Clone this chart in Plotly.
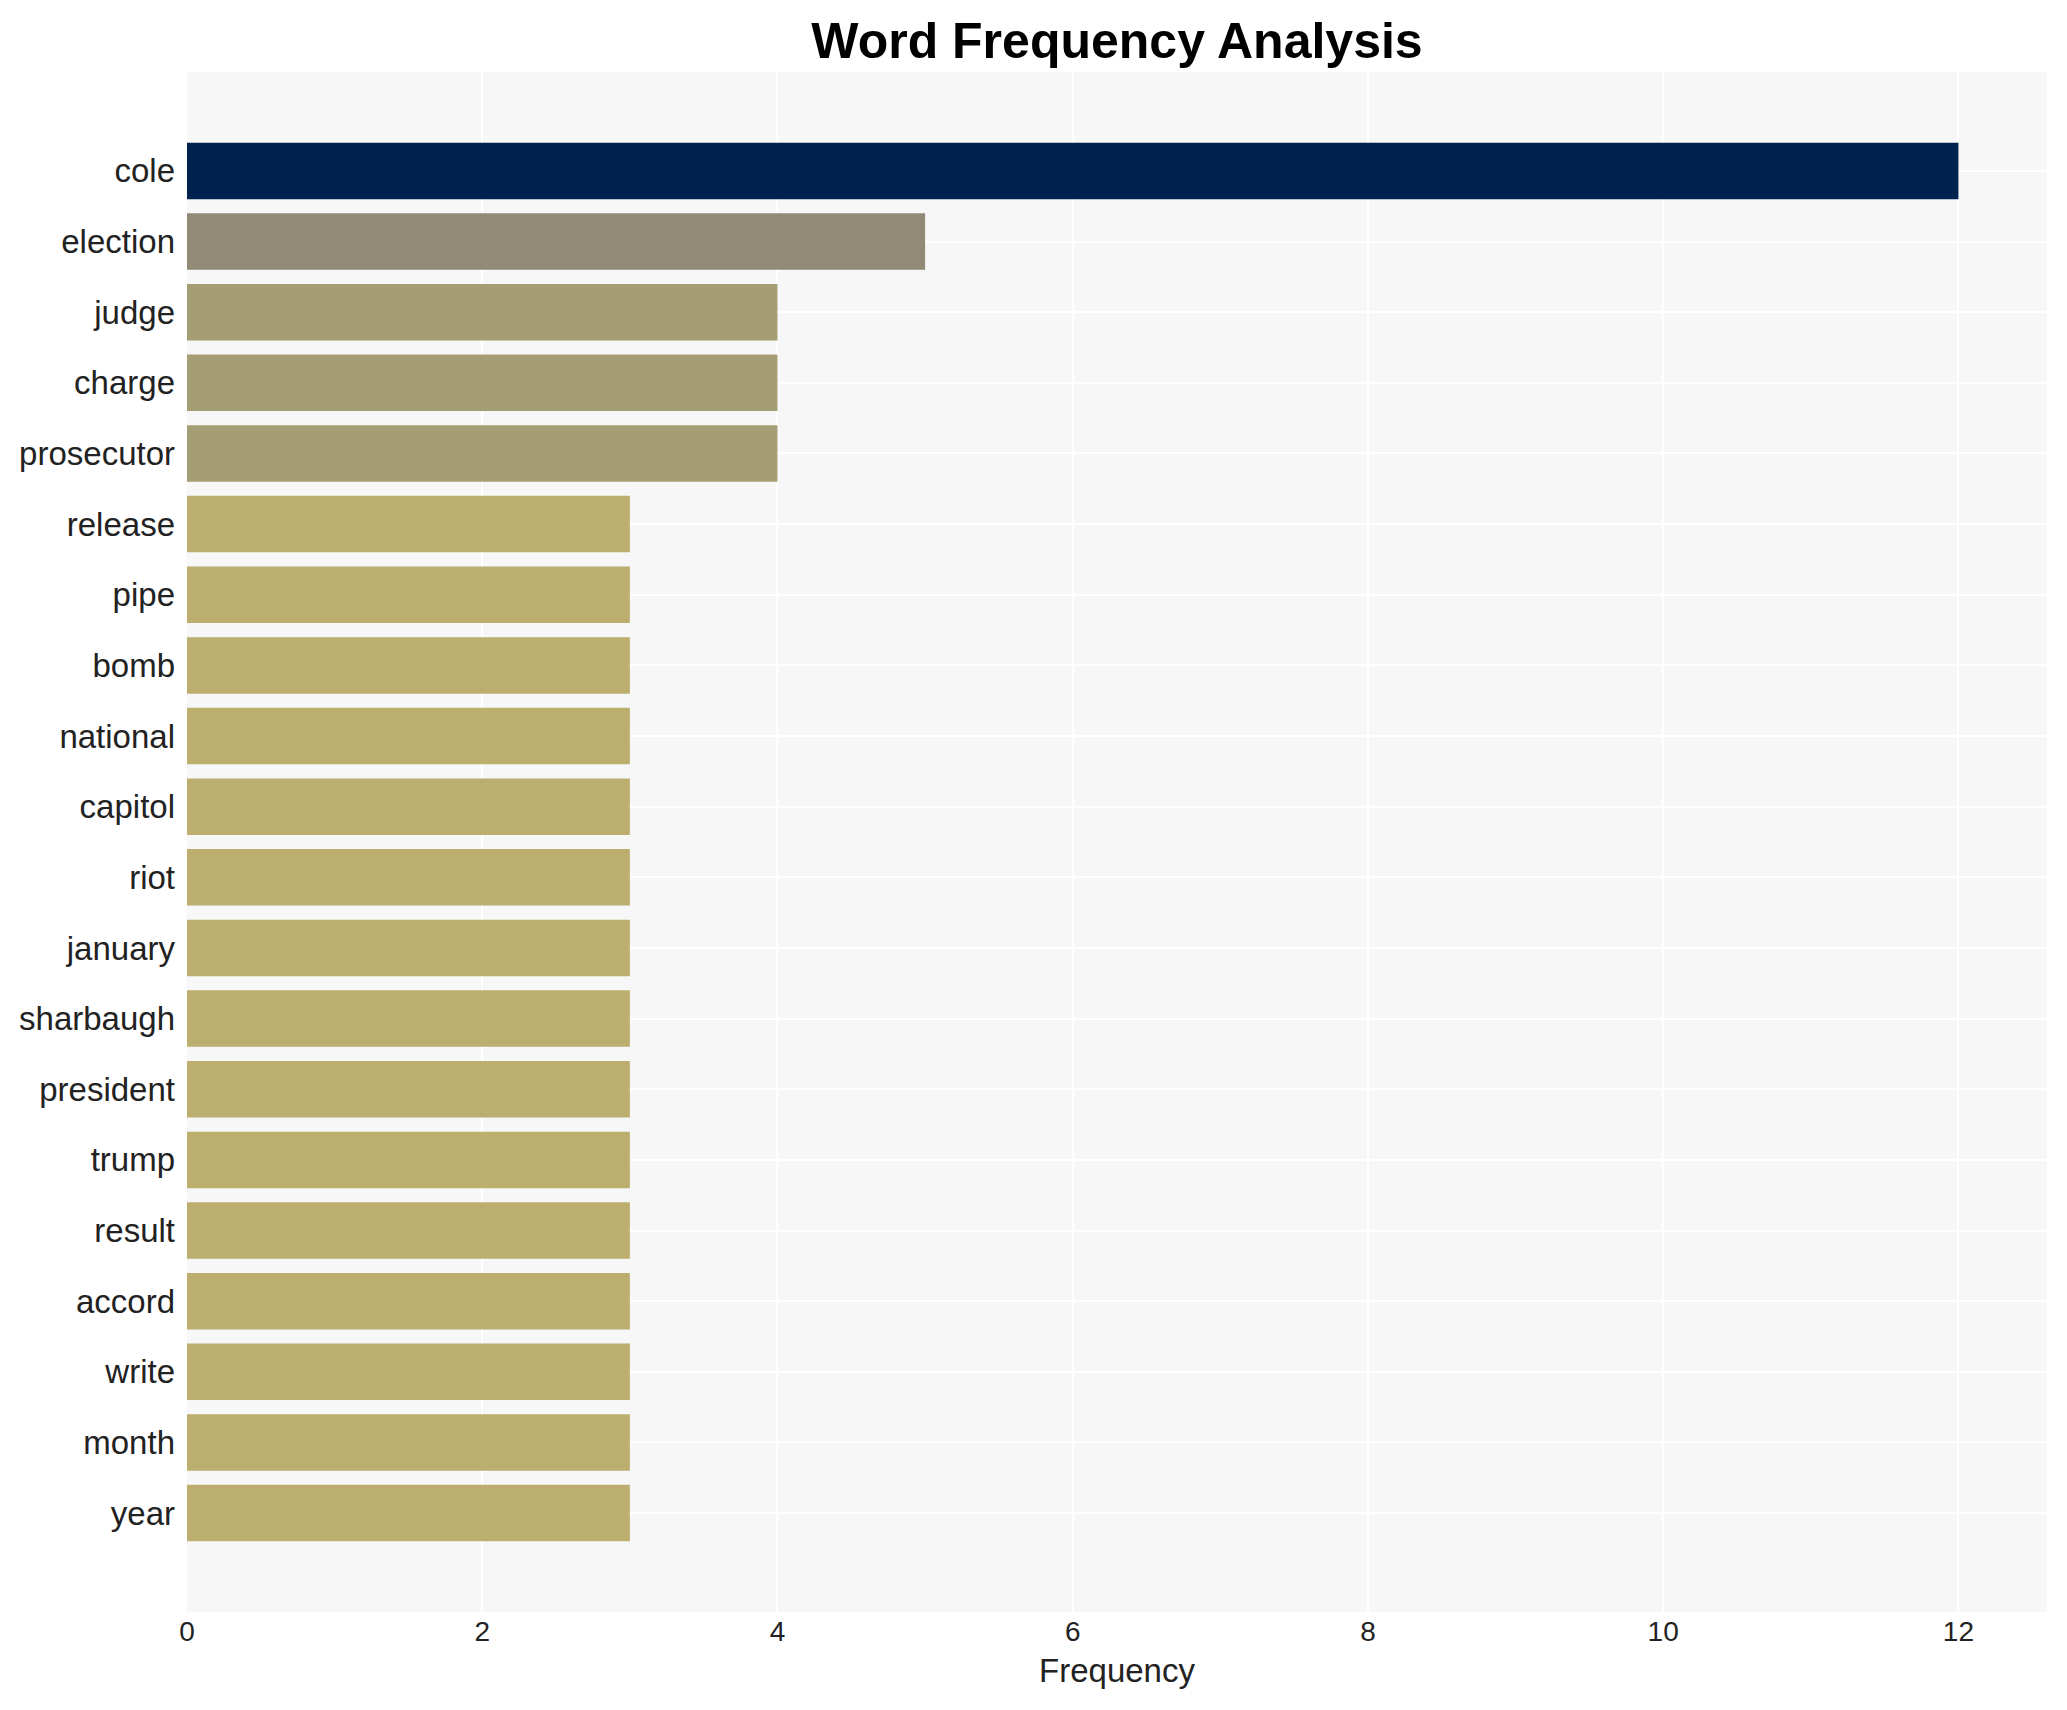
import plotly.graph_objects as go

words = ["cole", "election", "judge", "charge", "prosecutor", "release", "pipe", "bomb",
         "national", "capitol", "riot", "january", "sharbaugh", "president", "trump",
         "result", "accord", "write", "month", "year"]
counts = [12, 5, 4, 4, 4, 3, 3, 3, 3, 3, 3, 3, 3, 3, 3, 3, 3, 3, 3, 3]

colorscale = [[0.0, "#bbae6f"], [1/9, "#a59d74"], [2/9, "#918a77"], [1.0, "#00224e"]]

fig = go.Figure(go.Bar(
    x=counts, y=words, orientation="h", width=0.8,
    marker=dict(color=counts, colorscale=colorscale, cmin=3, cmax=12, line=dict(width=0)),
))

fig.update_layout(
    width=2067, height=1710,
    paper_bgcolor="white", plot_bgcolor="#f7f7f7",
    margin=dict(l=179, r=28, t=64, b=106),
    title=dict(text="<b>Word Frequency Analysis</b>", x=0.5, xref="paper", xanchor="center",
               y=1 - 32/1710, yref="container", yanchor="middle",
               font=dict(family="Liberation Sans, Arial", size=50, color="black")),
    font=dict(family="Liberation Sans, Arial", color="#222222"),
    showlegend=False,
    bargap=0.2,
)
fig.update_xaxes(title=dict(text="Frequency", font=dict(size=33), standoff=12),
                 tickfont=dict(size=28), gridcolor="white", gridwidth=2, zeroline=False,
                 range=[0, 12.6], dtick=2, showline=False, ticks="")
fig.update_yaxes(categoryorder="array", categoryarray=words, range=[20.4, -1.4],
                 tickfont=dict(size=33), gridcolor="white", gridwidth=2, showline=False,
                 ticks="", ticklabelstandoff=11)

fig.write_html("out.html")
